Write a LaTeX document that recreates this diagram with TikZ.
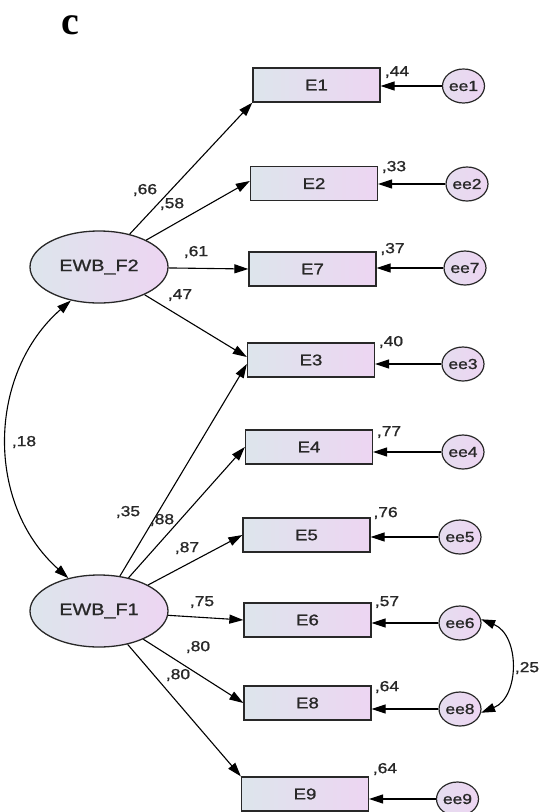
\documentclass[tikz,border=0pt]{standalone}
\usepackage{fontspec}
\setmainfont{Liberation Sans}[FakeStretch=1.2,FakeBold=1.2]
\newfontfamily\capfont{Liberation Serif}
\usetikzlibrary{arrows.meta,shapes.geometric,calc}
\definecolor{shL}{RGB}{221,229,236}
\definecolor{shR}{RGB}{237,213,242}
\definecolor{ink}{RGB}{40,40,40}
\tikzset{
  latent/.style={ellipse, draw=ink, line width=1.3pt, left color=shL, right color=shR,
    minimum width=138pt, minimum height=72pt, inner sep=0pt,
    font=\fontsize{16.5}{19}\selectfont, text=ink},
  obs/.style={rectangle, draw=ink, line width=1.3pt, left color=shL, right color=shR,
    minimum width=127pt, minimum height=34pt, inner sep=0pt,
    font=\fontsize{15.5}{18}\selectfont, text=ink},
  err/.style={ellipse, draw=ink, line width=1.2pt, left color=shL!50!shR, right color=shR,
    minimum width=42pt, minimum height=34pt, inner sep=0pt,
    font=\fontsize{14.5}{16}\selectfont, text=ink},
  lbl/.style={inner sep=0pt, font=\fontsize{14.5}{16}\selectfont, text=ink},
  load/.style={draw=black, line width=1.1pt, -{Triangle[length=14pt,width=9pt]}},
  cov/.style={draw=black, line width=1.1pt, {Triangle[length=14pt,width=9pt]}-{Triangle[length=14pt,width=9pt]}},
}
\begin{document}
\begin{tikzpicture}[x=1pt,y=-1pt]
\useasboundingbox (0,0) rectangle (539,812);
\node[inner sep=0pt, font=\capfont\bfseries\fontsize{40}{42}\selectfont] (lab) at (70,25) {c};
% latent
\node[latent] (F2) at (99,267) {EWB\_F2};
\node[latent] (F1) at (99,611) {EWB\_F1};
% observed
\node[obs] (E1) at (316.5,85) {E1};
\node[obs] (E2) at (314,183.5) {E2};
\node[obs] (E7) at (312.5,269) {E7};
\node[obs] (E3) at (311,360) {E3};
\node[obs] (E4) at (309,447) {E4};
\node[obs] (E5) at (306.5,535) {E5};
\node[obs] (E6) at (307.5,620) {E6};
\node[obs] (E8) at (307.5,703) {E8};
\node[obs] (E9) at (305,794) {E9};
% errors
\node[err] (ee1) at (463.5,86) {ee1};
\node[err] (ee2) at (467,184) {ee2};
\node[err] (ee7) at (465,268) {ee7};
\node[err] (ee3) at (463,364) {ee3};
\node[err] (ee4) at (463,452) {ee4};
\node[err] (ee5) at (460,537) {ee5};
\node[err] (ee6) at (460,623) {ee6};
\node[err] (ee8) at (460,709) {ee8};
\node[err] (ee9) at (457.5,799) {ee9};
% error arrows
\foreach \i in {1,2,7,3,4,5,6,8,9}
  \draw[load] (ee\i.west) -- (E\i.east |- ee\i.west);
% loadings
\draw[load] (F2) -- (E1.south west);
\draw[load] (F2) -- ($(E2.west)+(0,-2.5)$);
\draw[load] (F2) -- (E7.west);
\draw[load] (F2) -- ($(E3.west)+(0,-3)$);
\draw[load] (F1) -- ($(E3.west)+(0,4)$);
\draw[load] (F1) -- (E4.west);
\draw[load] (F1) -- (E5.west);
\draw[load] (F1) -- (E6.west);
\draw[load] (F1) -- (E8.west);
\draw[load] (F1) -- (E9.north west);
% covariances
\draw[cov] (F2.230) .. controls (-11.8,372.7) and (-15.7,502.9) .. (F1.133);
\draw[cov] (ee6.10) .. controls (520,635) and (520,697) .. (ee8.-10);
% labels
\node[lbl] (r1) at (397,72) {,44};
\node[lbl] (r2) at (394,167) {,33};
\node[lbl] (r7) at (392.5,249) {,37};
\node[lbl] (r3) at (391,342) {,40};
\node[lbl] (r4) at (389,432) {,77};
\node[lbl] (r5) at (385.6,513) {,76};
\node[lbl] (r6) at (387,602) {,57};
\node[lbl] (r8) at (387,687) {,64};
\node[lbl] (r9) at (385,769) {,64};
\node[lbl] (l1) at (145,190) {,66};
\node[lbl] (l2) at (172,204) {,58};
\node[lbl] (l7) at (196,252) {,61};
\node[lbl] (l3) at (180,295) {,47};
\node[lbl] (c12) at (24,442) {,18};
\node[lbl] (m3) at (128,512) {,35};
\node[lbl] (m4) at (162,520) {,88};
\node[lbl] (m5) at (187,548) {,87};
\node[lbl] (m6) at (202,602) {,75};
\node[lbl] (m8) at (198,647) {,80};
\node[lbl] (m9) at (178,675) {,80};
\node[lbl] (c68) at (527,668) {,25};
\end{tikzpicture}
\end{document}
